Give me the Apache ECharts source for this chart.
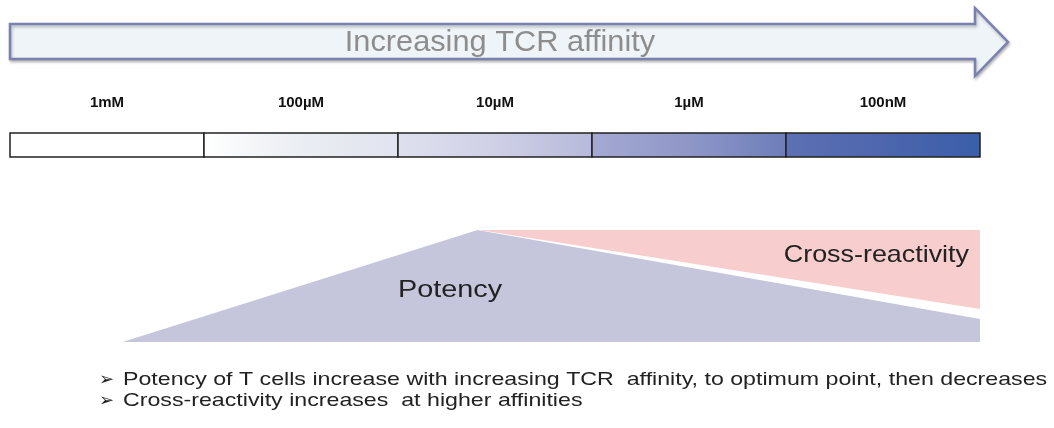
<!DOCTYPE html>
<html><head><meta charset="utf-8">
<script src="https://cdn.jsdelivr.net/npm/echarts@6/dist/echarts.min.js"></script>
<style>html,body{margin:0;padding:0;background:#fff}#c{width:1054px;height:428px}</style>
</head><body><div id="c"></div>
<script>
// affinity scale categories (segments of the bar)
var affinityLabels = ['1mM', '100\u00b5M', '10\u00b5M', '1\u00b5M', '100nM'];
// potency profile: [affinity position (segments), relative potency]
var potency = [[0.58, 0], [2.41, 1], [5, 0.205]];
// cross-reactivity profile: [affinity position, lower edge in panel units (1 = none)]
var crossReactivity = [[2.42, 1], [5, 0.295]];
var bulletLines = [
  'Potency of T cells increase with increasing TCR  affinity, to optimum point, then decreases',
  'Cross-reactivity increases  at higher affinities'
];
var segmentIndex = [0, 1, 2, 3, 4];

var segColors = [
  ['#ffffff', '#ffffff', '#ffffff'],
  ['#ffffff', '#eaedf2', '#e1e3ef'],
  ['#dfe0ee', '#cfd0e6', '#b6b9da'],
  ['#a5a9d2', '#8f97c8', '#6c7db9'],
  ['#5d70b3', '#4d66ae', '#3a5ea9']
];
var FONT = '"Liberation Sans", Arial, sans-serif';

function txt(x, y, s, font, color, sx, align) {
  return {type: 'text', z: 100, x: x, y: y, scaleX: sx || 1,
    style: {text: s, font: font, fill: color, textAlign: align || 'left', textVerticalAlign: 'middle'}};
}

var chart = echarts.init(document.getElementById('c'));
chart.setOption({
  animation: false,
  grid: [
    {left: 10, right: 74, top: 230, bottom: 86},
    {left: 10, right: 74, top: 133, height: 24}
  ],
  xAxis: [
    {gridIndex: 0, type: 'value', min: 0, max: 5, show: false},
    {gridIndex: 1, type: 'value', min: 0, max: 5, show: false},
    {gridIndex: 1, type: 'category', data: affinityLabels, position: 'top',
     axisLine: {show: false}, axisTick: {show: false},
     axisLabel: {margin: 23, color: '#111', fontWeight: 'bold', fontSize: 15, fontFamily: FONT}}
  ],
  yAxis: [
    {gridIndex: 0, type: 'value', min: 0, max: 1, show: false},
    {gridIndex: 1, type: 'value', min: 0, max: 1, show: false}
  ],
  graphic: [
    {type: 'polygon', z: 1,
     shape: {points: [[10, 24], [975, 24], [975, 8], [1008, 42], [975, 76], [975, 59], [10, 59]]},
     style: {fill: '#eef4f7', stroke: '#7a80b0', lineWidth: 2.5,
             shadowBlur: 3, shadowOffsetX: 1, shadowOffsetY: 2, shadowColor: 'rgba(0,0,0,0.25)'}},
    txt(500, 43, 'Increasing TCR affinity', '29px ' + FONT, '#8d8d8d', 1.06, 'center'),
    txt(398, 290, 'Potency', '24px ' + FONT, '#222', 1.2),
    txt(969, 255, 'Cross-reactivity', '24px ' + FONT, '#222', 1.12, 'right'),
    txt(99, 380, '\u27a2', 'bold 18px "DejaVu Sans"', '#222'),
    txt(99, 401, '\u27a2', 'bold 18px "DejaVu Sans"', '#222'),
    txt(123, 380, bulletLines[0], '19px ' + FONT, '#222', 1.22),
    txt(123, 401, bulletLines[1], '19px ' + FONT, '#222', 1.22)
  ],
  series: [
    {type: 'line', xAxisIndex: 0, yAxisIndex: 0, data: potency, symbol: 'none',
     lineStyle: {width: 0}, areaStyle: {color: '#c5c6dc', opacity: 1}},
    {type: 'line', xAxisIndex: 0, yAxisIndex: 0, data: crossReactivity, symbol: 'none',
     lineStyle: {width: 0}, areaStyle: {color: '#f8cdcd', opacity: 1, origin: 'end'}},
    {type: 'custom', xAxisIndex: 1, yAxisIndex: 1, data: segmentIndex,
     renderItem: function (params, api) {
       var i = api.value(0);
       var p0 = api.coord([i, 1]);
       var p1 = api.coord([i + 1, 0]);
       var c = segColors[i];
       return {
         type: 'rect',
         shape: {x: p0[0], y: p0[1], width: p1[0] - p0[0], height: p1[1] - p0[1]},
         style: {
           fill: new echarts.graphic.LinearGradient(0, 0, 1, 0, [
             {offset: 0, color: c[0]}, {offset: 0.5, color: c[1]}, {offset: 1, color: c[2]}
           ]),
           stroke: '#222', lineWidth: 1.5
         }
       };
     }}
  ]
});
</script></body></html>
